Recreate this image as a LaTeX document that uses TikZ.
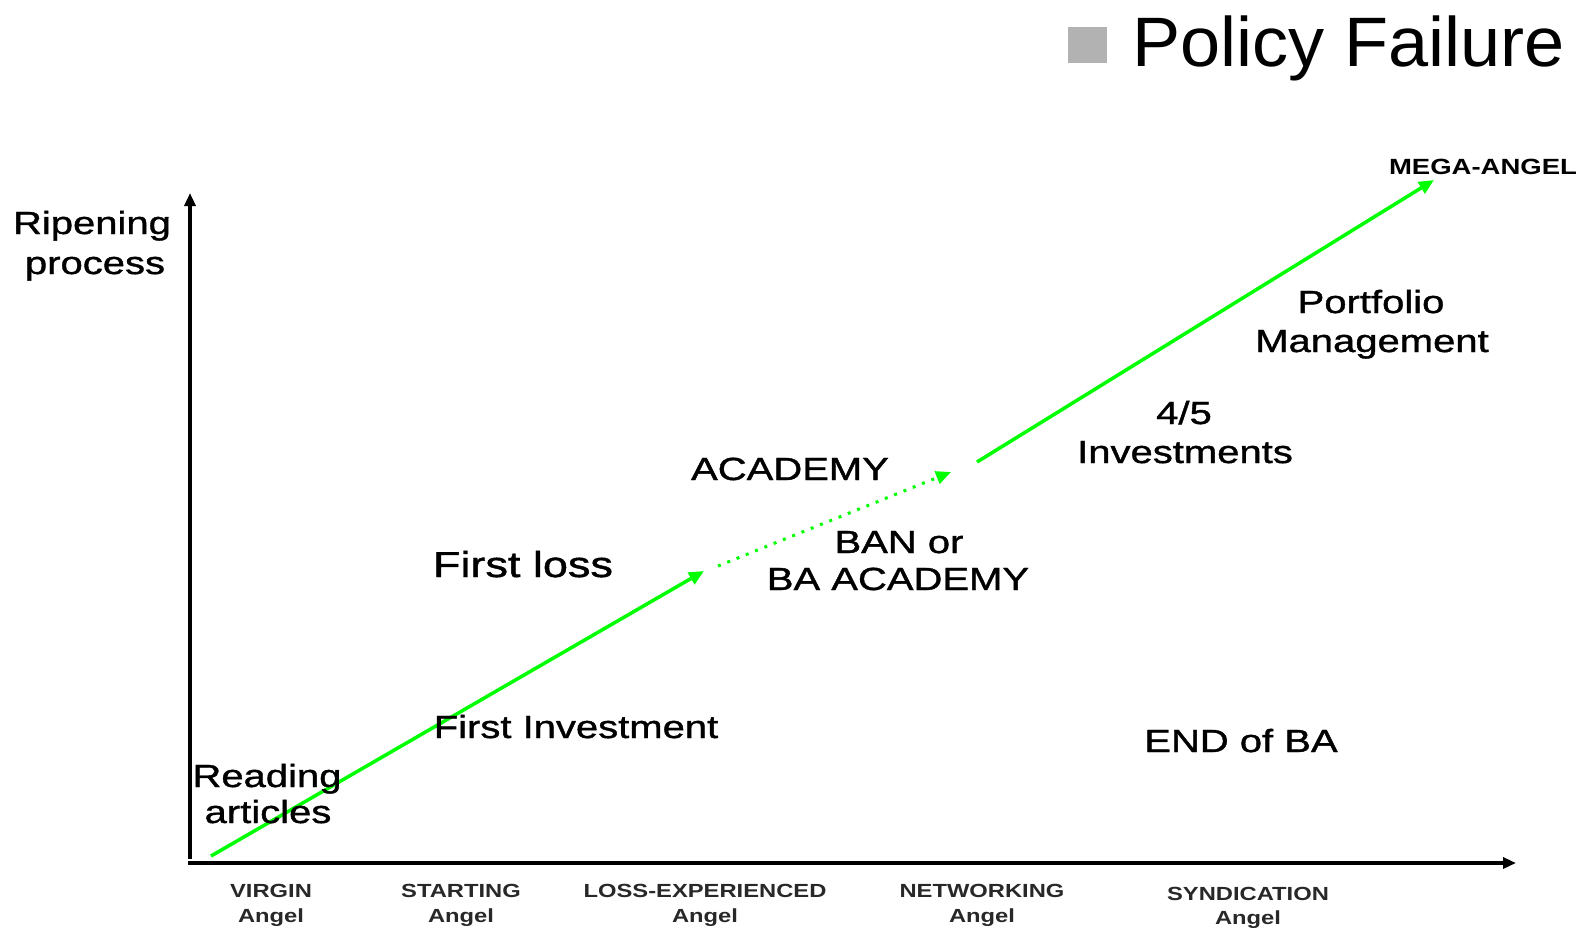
\documentclass[tikz,border=0pt]{standalone}
\usepackage{fontspec}
\setmainfont{Liberation Sans}[FakeStretch=1.25]
\newfontfamily\bodyfont{Liberation Sans}[FakeStretch=1.25, FakeBold=1.2]
\newfontfamily\titlefont{Liberation Sans}[FakeStretch=1.03]
\usetikzlibrary{arrows.meta}
\definecolor{ripegreen}{RGB}{0,255,0}
\definecolor{legendgray}{RGB}{178,178,178}
\definecolor{axistext}{RGB}{40,40,40}
\tikzset{
  lbl/.style={inner sep=0pt, anchor=base, font=\bodyfont\fontsize{32}{38}\selectfont},
  biglbl/.style={lbl, font=\bodyfont\fontsize{36}{42}\selectfont},
  stage/.style={inner sep=0pt, anchor=base, text=axistext, font=\bfseries\fontsize{19}{22}\selectfont},
  axis/.style={line width=3.5pt, black, -{Triangle[length=13pt,width=11pt]}},
  growth/.style={line width=3.5pt, ripegreen, -{Triangle[length=15pt,width=13pt]}},
  growthdots/.style={line width=3pt, ripegreen, dash pattern=on 3pt off 7pt, -{Triangle[length=15pt,width=13pt]}}
}
\begin{document}
\begin{tikzpicture}[x=1pt,y=-1pt]
\useasboundingbox (0,0) rectangle (1587,930);

% legend
\fill[legendgray] (1068,27) rectangle (1107,63);
\node[inner sep=0pt, anchor=base west, font=\titlefont\fontsize{70}{80}\selectfont] (legend) at (1132,66) {Policy Failure};

% axes
\coordinate (origin) at (190,859);
\coordinate (ytop) at (190,193);
\coordinate (xorigin) at (188,863);
\coordinate (xend) at (1516,863);
\draw[axis] (origin) -- (ytop);
\draw[axis] (xorigin) -- (xend);

% y-axis caption
\node[lbl] (ripening) at (92,234) {Ripening};
\node[lbl] (process) at (95,274) {process};

% ripening path
\coordinate (p0) at (211,856);
\coordinate (p1) at (704,571);
\coordinate (p2) at (718,566);
\coordinate (p3) at (951,472);
\coordinate (p4) at (977,462);
\coordinate (p5) at (1434,180);
\draw[growth] (p0) -- (p1);
\draw[growthdots] (p2) -- (p3);
\draw[growth] (p4) -- (p5);

% stage descriptions
\node[lbl] (reading) at (267,787) {Reading};
\node[lbl] (articles) at (268,823) {articles};
\node[lbl] (firstinv) at (576,738) {First Investment};
\node[biglbl] (firstloss) at (523,577) {First loss};
\node[lbl] (academy) at (790,480) {ACADEMY};
\node[lbl] (banor) at (899,553) {BAN or};
\node[lbl] (baacademy) at (898,590) {BA ACADEMY};
\node[lbl] (fourfive) at (1184,424) {4/5};
\node[lbl] (investments) at (1185,463) {Investments};
\node[lbl] (portfolio) at (1371,313) {Portfolio};
\node[lbl] (management) at (1372,352) {Management};
\node[lbl] (endba) at (1241,752) {END of BA};
\node[stage, font=\bfseries\fontsize{22}{26}\selectfont, text=black] (mega) at (1483,174) {MEGA-ANGEL};

% x-axis stages
\node[stage] (virgin) at (271,897) {VIRGIN};
\node[stage] (virginA) at (271,922) {Angel};
\node[stage] (starting) at (461,897) {STARTING};
\node[stage] (startingA) at (461,922) {Angel};
\node[stage] (loss) at (705,897) {LOSS-EXPERIENCED};
\node[stage] (lossA) at (705,922) {Angel};
\node[stage] (networking) at (982,897) {NETWORKING};
\node[stage] (networkingA) at (982,922) {Angel};
\node[stage] (syndication) at (1248,900) {SYNDICATION};
\node[stage] (syndicationA) at (1248,924) {Angel};
\end{tikzpicture}
\end{document}
